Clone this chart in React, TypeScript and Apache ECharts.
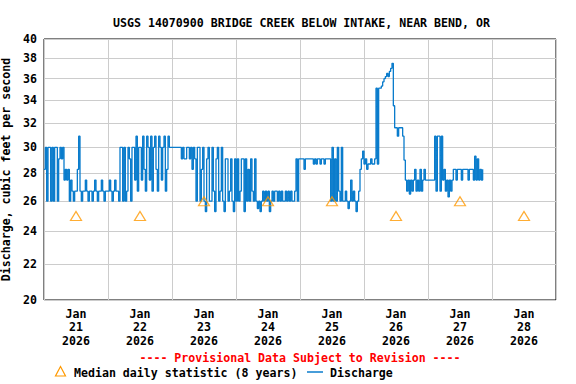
import React, { useEffect, useRef } from 'react';
import * as echarts from 'echarts';

const chartTitle = 'USGS 14070900 BRIDGE CREEK BELOW INTAKE, NEAR BEND, OR';
const yAxisTitle = 'Discharge, cubic feet per second';
const provisionalNote = '---- Provisional Data Subject to Revision ----';
const medianName = 'Median daily statistic (8 years)';
const dischargeName = 'Discharge';

const dayLabels = ['Jan\n21\n2026', 'Jan\n22\n2026', 'Jan\n23\n2026', 'Jan\n24\n2026', 'Jan\n25\n2026', 'Jan\n26\n2026', 'Jan\n27\n2026', 'Jan\n28\n2026'];
const dayStartHours = [0, 24, 48, 72, 96, 120, 144, 168, 192];
const dayNoonHours = [12, 36, 60, 84, 108, 132, 156, 180];
const yTicks = [20, 22, 24, 26, 28, 30, 32, 34, 36, 38, 40];
const medianValues = [25, 25, 26, 26, 26, 25, 26, 25];

// discharge readings, every 30 minutes from Jan 21 00:00
const stepHours = 0.5;
const jan21 = [28.3, 30, 26, 30, 30, 26, 30, 26, 30, 30, 26, 29.1, 30, 29.1, 30, 27.5,
  28.3, 27.5, 28.3, 26, 27.5, 26.7, 26, 26.7, 26.7, 28.3, 30.9,
  26.7, 26, 26.7, 26.7, 27.5, 26.7, 26, 26.7, 26.7, 26, 26.7, 27.5, 26.7, 26, 26.7, 26.7, 27.5, 26.7, 26, 26.7, 26.7];
const jan22 = [26.7, 27.5, 26.7, 26, 26.7, 27.5, 26.7, 26.7, 26,
  30, 30, 26, 30, 26, 26.7, 30, 29.1, 26, 30, 30, 27.5, 30.9, 26.7, 30, 30, 27.5, 30.9, 28.3, 26.7,
  30.9, 30, 27.5, 30.9, 26.7, 30, 30.9, 28.3, 26.7, 30.9, 30, 27.5, 30, 30.9, 26.7, 28.3, 30.9, 30, 30];
const jan23 = [30, 30, 30, 30, 30, 30, 30,
  29.1, 30, 29.1, 29.1, 30, 30, 29.1, 30, 28.3, 30, 29.1,
  26, 30, 30, 26, 28.3, 30, 26, 25.3, 29.1, 30, 26, 26, 30, 26.7, 25.3, 29.1, 30, 26, 26.7, 30,
  26, 25.3, 29.1, 29.1, 26, 26.7, 29.1, 26, 25.3, 29.1];
const jan24 = [26, 29.1, 26, 26.7, 29.1, 29.1, 25.3, 29.1, 26, 28.3, 26, 29.1, 26.7, 26, 29.1, 26, 25.5, 26,
  25.3, 26, 26.7, 26, 26.7, 26, 26.7, 25.3, 26, 26.7, 26, 26.7, 26.7, 26, 26.7, 26, 26.7, 26, 26, 26.7,
  26, 26.7, 26, 26.7, 26, 26, 26.7, 29.1, 26, 29.1];
const jan25 = [29.1, 29.1, 29.1, 28.3, 29.1, 29.1, 29.1, 29.1, 29.1, 29.1, 28.7, 29.1, 28.7, 29.1, 29.1, 28.7,
  29.1, 29.1, 28.7, 29.1, 29.1, 29.1, 29.1,
  26, 30, 26, 29.1, 26, 30, 26.7, 26, 30, 26, 26, 26.7, 26, 25.5, 26, 27.5, 26, 26.7, 26, 25.3,
  26, 26.7, 28.3, 29.1, 29.7];
const jan26 = [28.7, 29.1, 28.3, 28.7, 28.7, 29.1, 28.7, 28.7, 29.1,
  35.1, 28.7, 35.1, 35.1, 35.3,
  35.7, 36, 36.2, 36.5, 36.2, 36.7, 37, 37.5,
  33.5, 31.6, 31.6, 30.9, 31.6, 31.6, 31.6, 30.9, 29,
  27.5, 26.7, 27.5, 26.5, 27.5, 26.7, 27.5, 28.3, 26.7, 27.5, 26.7, 28.3, 26.7, 27.5, 28.3,
  27.5, 27.5];
const jan27 = [27.5, 27.5, 27.5, 27.5, 27.5,
  30.9, 26.7, 30.9, 30.9, 26.7, 30.9,
  27.5, 28.3, 26.7, 27.5, 26.3, 27.5, 26.7, 27.5,
  28.3, 28.3, 27.5, 28.3, 28.3, 28.3, 27.5, 28.3, 28.3, 28.3, 28.3, 27.5, 28.3, 28.3, 28.3, 27.5,
  29.3, 27.5, 29.1, 27.5, 28.3, 27.5, 28.3];

const FONT = 'DejaVu Sans Mono';
const LINE_COLOR = '#0a7ccc';
const MEDIAN_COLOR = '#ff9900';

export default function App() {
  const ref = useRef<HTMLDivElement>(null);
  useEffect(() => {
    document.body.style.margin = '0';
    const chart = echarts.init(ref.current as HTMLDivElement, null, { renderer: 'svg' });
    const allValues = [...jan21, ...jan22, ...jan23, ...jan24, ...jan25, ...jan26, ...jan27];
    const discharge = allValues.map((v, i) => [i * stepHours, Math.log10(v)]);
    const medians = medianValues.map((v, d) => [dayNoonHours[d], Math.log10(v)]);
    const yTickVals = yTicks.map((t) => Math.log10(t));
    const textBase = { fontFamily: FONT, fontWeight: 'bold' as const, fontSize: 11.6, color: '#000' };
    const font = `bold 11.6px "${FONT}"`;

    chart.setOption({
      animation: false,
      title: {
        text: chartTitle,
        left: 108,
        top: 12,
        textStyle: { ...textBase },
      },
      grid: {
        left: 44,
        right: 20,
        top: 39,
        bottom: 84,
        containLabel: false,
        outerBoundsMode: 'none',
        show: true,
        borderColor: '#000',
        borderWidth: 1,
        backgroundColor: '#fff',
      },
      xAxis: {
        type: 'value',
        min: 0,
        max: 192,
        interval: 24,
        axisLine: { show: false },
        axisTick: { show: false, customValues: dayStartHours },
        splitLine: { show: true, lineStyle: { color: '#cccccc', width: 1 } },
        axisLabel: {
          customValues: dayNoonHours,
          formatter: (v: number) => dayLabels[dayNoonHours.indexOf(v)] ?? '',
          ...textBase,
          lineHeight: 13.5,
          margin: 7,
        },
      },
      yAxis: {
        type: 'value',
        min: Math.log10(20),
        max: Math.log10(40),
        axisLine: { show: false },
        axisTick: { show: false, customValues: yTickVals },
        splitLine: { show: true, lineStyle: { color: '#cccccc', width: 1 } },
        axisLabel: {
          customValues: yTickVals,
          formatter: (v: number) => String(Math.round(Math.pow(10, v))),
          ...textBase,
          margin: 7,
        },
        name: yAxisTitle,
        nameLocation: 'middle',
        nameGap: 23.5,
        nameTextStyle: { ...textBase },
      },
      graphic: [
        {
          type: 'text',
          x: 300,
          y: 358,
          style: {
            text: provisionalNote,
            fill: '#ff0000',
            font,
            textAlign: 'center',
            textVerticalAlign: 'middle',
          },
        },
        {
          type: 'polygon',
          shape: { points: [[60.5, 366.5], [55.5, 376], [65.5, 376]] },
          style: { fill: 'none', stroke: MEDIAN_COLOR, lineWidth: 1.2 },
        },
        {
          type: 'text',
          x: 74,
          y: 373,
          style: { text: medianName, fill: '#000', font, textAlign: 'left', textVerticalAlign: 'middle' },
        },
        {
          type: 'line',
          shape: { x1: 307, y1: 372, x2: 323, y2: 372 },
          style: { stroke: LINE_COLOR, lineWidth: 1.5 },
        },
        {
          type: 'text',
          x: 330,
          y: 373,
          style: { text: dischargeName, fill: '#000', font, textAlign: 'left', textVerticalAlign: 'middle' },
        },
      ],
      series: [
        {
          type: 'line',
          name: dischargeName,
          data: discharge,
          step: 'end',
          symbol: 'none',
          color: LINE_COLOR,
          lineStyle: { color: LINE_COLOR, width: 1.3 },
          z: 2,
        },
        {
          type: 'scatter',
          name: medianName,
          data: medians,
          symbol: 'triangle',
          symbolSize: [11, 9],
          color: MEDIAN_COLOR,
          itemStyle: { color: 'rgba(255,255,255,0)', borderColor: MEDIAN_COLOR, borderWidth: 1.2 },
          z: 3,
        },
      ],
    });
    return () => chart.dispose();
  }, []);
  return <div ref={ref} style={{ width: 576, height: 384 }} />;
}
